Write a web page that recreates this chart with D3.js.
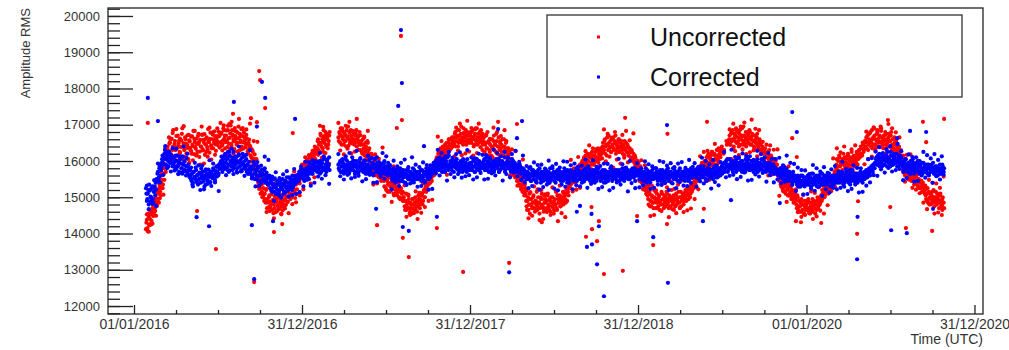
<!DOCTYPE html>
<html><head><meta charset="utf-8">
<script src="https://cdn.jsdelivr.net/npm/d3@7"></script>
<style>
html,body{margin:0;padding:0;background:#fff;}
svg{display:block;font-family:"Liberation Sans",Arial,Helvetica,sans-serif;}
</style></head><body>
<svg id="chart" width="1009" height="350"></svg>
<script>
// ---------------- DATA ----------------
const seriesNames = ["Uncorrected", "Corrected"];
const stepDays = 2;      // runs A and B
const stepDaysC = 4;     // run C
const yearStarts = ["2016-01-27", "2017-01-01", "2018-01-01", "2019-01-01", "2020-01-01"];
const yearStartsB = ["2016-01-28", "2017-01-02", "2018-01-02", "2019-01-02", "2020-01-02"];
const yearStartsC = ["2016-01-29", "2017-01-03", "2018-01-03", "2019-01-03", "2020-01-03"];

const uncorrected2016 = [14120,14380,14060,14450,14230,
14520,14350,14700,14480,14880,14620,14950,14760,
15100,14850,15320,15050,15480,15250,
15650,15480,15900,16150,15820,16300,
16250,16520,16180,16610,16390,16080,16470,16300,16690,16150,
16420,16560,16230,16380,16750,16120,16490,16330,16600,16210,
16440,16050,16570,16360,16270,16680,16410,16190,16530,16340,
16620,16260,16480,16110,16580,16400,16720,16290,16510,16170,
16460,16650,16320,16540,16230,16780,16430,16600,16350,16500,
16690,16280,16560,16440,16810,16370,
16520,16780,16450,16900,16610,16350,16700,16550,16850,16480,
16640,16980,16420,16730,16580,16330,16690,16820,16500,16620,
16280,16750,16560,16400,16870,16510,16650,16380,16720,16460,
16300,16590,16420,
16350,16080,16250,15950,16180,15800,16050,
15750,15400,15600,15250,15520,15150,15380,15080,
15100,14850,15230,14950,14720,15050,14880,15180,14650,14930,
14800,15020,14590,14870,14760,15120,14680,14900,14550,14830,
15060,14720,14950,14800,15150,14870,15000,
15230,14950,15300,15080,15400,15150,14980,15350,15220,15480,
15600,15380,15750,15520];
const uncorrected2016B = [14300,14150,14550,14250,14400,
14250,14600,14800,14550,14700,15000,14850,15150,
14950,15250,15150,15400,15600,15350,
15800,16050,15700,16250,16400,16100,
16480,16620,16150,16300,16850,16400,16550,16020,16350,16700,
16480,16250,16130,16560,16900,16420,16300,16650,16480,16070,
16360,16720,16540,16290,16200,16450,16830,16610,16380,16150,
16470,16690,16520,16260,16400,16950,16330,16580,16740,16460,
16250,16380,16880,16520,16610,16420,16350,16730,16580,16820,
16460,16620,16900,16510,16680,16750,
16750,16420,16560,16980,16700,16520,16840,16380,16620,17020,
16760,16470,16850,16690,16540,16910,16610,16450,16780,16950,
16660,16520,16880,16690,16340,16780,16560,16470,16620,16260,
16500,16380,16150,
16100,16300,15850,16050,15700,15900,15600,
15550,15300,15450,15100,15350,15000,15250,14900,
14950,15200,14700,14850,15000,14620,14780,15080,14850,14560,
14700,14950,14880,14620,14980,14700,14820,15050,14750,14640,
14900,15100,14780,15020,14880,15180,15050,
15100,15350,15000,15250,15450,15200,15380,15100,15550,15420,
15450,15700,15650,15900];
const uncorrected2016C = [14530,14050,14610,14270,15220,14490,15400,14970,15690,15070,16350,15840,
16650,15980,16770,16140,16880,16010,16620,16060,16960,16110,16710,15950,16670,16020,16830,16180,16750,15900,16730,15930,16610,16120,16920,16040,16800,16170,16690,15870,
17050,16290,16850,16180,16970,16340,17080,16210,16820,16260,17160,16310,16910,16150,16870,16220,17030,
15980,16550,15700,16530,
15230,15710,15020,15620,
14590,15350,14720,15240,14420,15400,14640,15200,14530,15320,14690,15430,14560,
15370,14810,15710,14860,15460,
15050,15770];

const uncorrected2017 = [15550,15800,15650,15950,15700,16050,15850,15750,16100,15900,16200,15980,16150,16300,16050,16250,
16350,16600,16450,16250,16700,16500,16350,16650,16550,16800,16400,16600,16450,16700,
null,null,null,null,null,null,null,null,null,
16650,16800,16500,16700,16900,16600,16450,16750,16550,16850,16680,16420,16780,16580,16700,16480,16820,16600,16520,16750,16400,16650,16550,16800,
16300,16550,16200,16450,16650,16250,16400,16100,16500,16300,16050,
16100,15800,15950,15700,16000,15850,15600,15900,15750,15550,15800,15650,15500,15700,
15550,15300,15600,15200,15450,15350,15650,15150,15400,15250,15500,15100,15380,15200,15450,15050,15300,15150,14950,15250,15100,14900,
15000,14750,14900,14650,14850,15050,14700,14600,14800,14550,14950,14700,14850,14650,14900,14750,15050,14800,14950,
14850,15100,14900,15200,15000,15300,
15250,15500,15350,15650,15400,15550,15750,15600,15850,15700,
15900,16100,15950,16250,16050,16350,16150,15980,16300,16200,16450,16100,16350,16250,16500,16300,16600,16400,16550,
16650,16450,16800,16550,16700,16400,16850,16600,16750,16500,16650,16900,16550,16700,16450,16800,16600,16500,16700];
const uncorrected2017B = [15700,15600,15900,15800,15650,15950,16000,15850,15950,16150,16050,16250,16100,16400,16200,16350,
16550,16300,16500,16750,16400,16600,16250,16500,16700,16450,16650,16350,16550,16800,
null,null,null,null,null,null,null,null,null,
16550,16750,16900,16450,16650,16800,16550,16700,16400,16650,16950,16600,16500,16850,16650,16550,16750,16450,16700,16850,16600,16500,16700,16450,
16450,16250,16600,16350,16150,16500,16300,16550,16200,16350,16150,
15950,16150,15750,15900,15650,16050,15800,15700,15950,15600,15750,15450,15650,15550,
15450,15650,15250,15500,15150,15400,15550,15300,15200,15450,15350,15050,15300,15500,15150,15250,15400,15000,15200,14950,15150,15000,
14900,14650,15100,14800,14700,14950,14550,14850,14700,14950,14600,14800,15000,14750,14600,14850,14950,14700,15100,
15050,14800,15150,15000,15250,15150,
15400,15350,15600,15500,15750,15450,15700,15900,15800,16000,
16050,15850,16200,16000,16300,16100,16250,16400,16150,16350,16250,16500,16200,16400,16600,16450,16350,16650,16500,
16550,16750,16400,16650,16850,16500,16700,16550,16950,16600,16450,16750,16650,16850,16550,16700,16750,16600,16800];
const uncorrected2017C = [15220,16100,15520,16160,15380,16280,15550,16300,
16170,16970,16090,16850,16220,16740,15920,
null,null,null,null,
17050,16290,16850,16180,16970,16340,17080,16210,16820,16260,17160,16310,
16710,15950,16670,16020,16830,16180,
16200,15350,16180,15380,16060,15570,16370,
15040,15800,15170,15690,14870,15850,15090,15650,14980,15770,15140,
15330,14460,15070,14510,15410,14560,15160,14400,15120,
14570,15380,14730,
15750,14900,15730,14930,15610,
15870,16670,15790,16550,15920,16440,15620,16600,15840,16400,
16130,16920,16290,17030,16160,16770,16210,17110,16260];

const uncorrected2018 = [16700,16500,16850,16600,16450,16750,16550,16900,16650,16500,16800,16600,16700,
16300,16550,16200,16450,16700,16350,16150,16500,16250,16600,16400,16100,16550,16300,16450,16750,16200,16400,16050,16500,16350,16250,16600,16150,16400,16300,16550,16200,
16150,15950,16200,15850,16050,15750,15950,15650,15850,15550,15750,15450,15650,15350,15550,15250,15450,15150,15350,
15050,14750,14900,14650,15100,14800,14950,14700,15000,14850,14600,14900,15150,14750,14850,14550,15000,14800,14950,14700,
15050,14850,14650,14900,15100,14750,14950,14600,14850,15000,14700,14900,14800,15150,14650,14950,14850,15050,14750,14900,
15000,14800,15100,14950,15200,14900,15150,
15300,15500,15350,15650,15450,15700,15550,15400,15750,15600,15850,15650,15900,15700,15950,
15850,16050,15900,16150,15950,16200,16000,15800,16100,15950,16250,16050,15900,16150,16000,16300,16100,15950,16250,16150,16350,
16250,16500,16300,16600,16400,16150,16450,16700,16350,16550,16250,16400,16650,16300,16500,16200,16450,16350,16600,16250,
16400,16550,16300,16450,16150,16350,16500,16250,16400,16200,16350,16100,16300,16050,16200,15950,16100,
15850,15650,15750];
const uncorrected2018B = [16550,16800,16650,16400,16700,16900,16600,16450,16750,16550,16650,16850,16500,
16450,16650,16250,16500,16350,16800,16550,16300,16450,16150,16600,16350,16700,16450,16250,16550,16400,16650,16300,16550,16450,16150,16400,16600,16300,16500,16250,16350,
16050,16250,15850,16000,15700,15900,15800,15550,15750,15450,15650,15350,15550,15300,15450,15150,15350,15050,15250,
14900,14650,15000,14800,14550,14950,14750,14850,15050,14700,14900,14800,14650,15000,14850,14700,14950,15100,14750,14600,
14850,14950,14700,15050,14800,14650,14900,15000,14750,14850,14550,14950,14800,14700,15050,14850,14950,14750,15000,14850,
15150,14900,15050,14850,15100,15250,15050,
15450,15250,15600,15400,15550,15800,15500,15650,15450,15800,15700,15550,15850,15750,16000,
15950,16100,15800,16050,15900,16150,15850,16100,16200,15900,16050,16150,15950,16250,16100,16000,16350,16200,16050,16300,16200,
16400,16300,16550,16200,16450,16650,16300,16500,16400,16250,16600,16450,16350,16550,16700,16300,16400,16550,16250,16500,
16350,16450,16200,16400,16550,16300,16250,16450,16150,16350,16250,16050,16250,16100,16000,16150,15900,
15750,15900,15600];
const uncorrected2018C = [16910,16150,16870,16220,17030,16380,
16750,15900,16730,15930,16610,16120,16920,16040,16800,16170,16690,15870,16850,16090,
16350,15600,16320,15610,16270,15320,15850,15220,16040,15110,
15180,14420,15140,14490,15300,14650,15220,14370,15200,14400,15080,14590,15390,14510,15270,14640,15160,14340,15320,14560,15120,14450,15240,
15290,16030,15160,15770,15210,16110,15260,15860,
15550,16270,15620,16430,15780,16350,15500,16330,15530,16210,
16070,16870,15990,16750,16120,16640,15820,16800,16040,16600,15930,16720,16090,16830,15960,16570,16010,16760,15860,
16010];

const uncorrected2019 = [15950,15700,15850,15500,15650,15350,15500,15200,15400,15150,
15050,14800,15150,14900,14750,15000,14850,15200,14950,14700,
15100,14850,15000,14650,14900,15150,14800,14950,15050,14750,
14900,15100,14850,14700,15000,14950,15200,14800,15050,14900,
14750,15100,14950,14850,15000,14700,15150,14900,15050,14800,
15000,15150,14900,15250,15050,15200,15000,15300,15150,
15400,15250,15550,15350,15650,15450,15750,15550,15850,15650,15950,15750,15600,16000,
15850,16100,15900,16200,15800,16050,15950,16250,15850,16000,16150,15900,16300,16050,15950,16200,16100,16350,
null,null,16300,null,null,16450,null,
16500,16700,16450,16800,16600,16350,16750,16550,16900,16500,
16650,16400,16850,16600,16700,16450,16950,16550,16650,16400,
16750,16600,16500,16800,16650,16450,16700,16550,16350,16600,
16500,16750,16400,16550,16300,16500,16250,
16350,16050,16250,15950,16200,16100,15900,16300,16000,16150,15850,16050,15950,15750,16000,15800,15650,
15700,15450,15600,15300,15550,15200,15450,15350,15100,15400,15250,15050,15300,15150,14950,15200,15050,14900,15100,
14900,14700,15000,14750,14600,14850,14950,14650,14800,14550,14900,14700];
const uncorrected2019B = [15800,15600,15750,15400,15600,15250,15450,15300,15100,15250,
14950,15100,14750,14900,15050,14850,14700,15000,15150,14850,
14950,14750,15050,14900,14800,15100,14950,14700,14850,15000,
15150,14800,14950,15050,14750,14900,15000,14850,14650,14950,
15050,14800,14900,15150,14850,15000,14750,14950,15100,14900,
15050,14950,15200,15100,14950,15250,15100,15350,15200,
15300,15500,15450,15300,15600,15500,15700,15650,15750,15900,15800,15700,15950,15850,
16000,15800,16150,15950,16100,15900,16250,16000,15900,16200,16050,15850,16150,16000,16300,16150,16250,16400,
null,16200,null,null,16550,null,null,
16600,16450,16750,16550,16850,16400,16650,16700,16500,16800,
16550,16750,16450,16650,16900,16550,16700,16450,16800,16600,
16500,16700,16850,16450,16600,16750,16550,16400,16700,16500,
16650,16450,16350,16600,16450,16300,16400,
16200,16000,16350,16100,15950,16250,16050,16150,15900,16100,15950,15800,16050,15850,15700,15900,15600,
15550,15650,15350,15500,15250,15400,15150,15300,15450,15200,15050,15350,15100,15250,15000,15150,14850,15050,14950,
14800,15050,14650,14900,14750,14600,14900,14800,14550,14750,14650,14850];
const uncorrected2019C = [15450,16020,15220,15880,15080,
15330,14480,15310,14510,15190,14700,15500,14620,15380,14750,15270,14450,15430,14670,15230,14560,15350,14720,15460,14590,15200,14640,15540,14690,
15610,14950,15770,15220,16130,15580,16250,
15450,16280,15480,16160,15670,16470,15590,16350,15720,
null,16250,null,null,
16870,16050,17030,16270,16830,16160,16950,16320,17060,16190,16800,16240,17140,16290,16890,16130,16850,16200,
16530,15880,16450,15600,16430,15630,16310,15820,16320,
15040,15800,15170,15690,14870,15850,15090,15650,14980,
15220,14590,15330,14460,15070,14510];

const uncorrected2020 = [14800,14650,14950,14700,14550,14850,14750,14600,14900,14700,14800,14650,15000,14750,14900,14850,15050,14950,
15100,15300,15050,15250,15150,15400,15200,15350,15500,15300,15450,15600,15400,15650,
15800,16050,15850,15700,16100,15900,16000,15750,16200,15950,
15850,16050,15700,16150,15900,16000,15800,16250,15950,16050,
15850,16100,15950,16200,16050,16300,16100,16400,16200,16350,16250,16500,
16400,16650,16500,16300,16750,16550,16400,16850,16600,16450,
16700,16350,16550,16800,16500,16650,16400,16900,16550,16450,
16700,16600,16350,16750,16500,16650,16400,16550,16800,16450,
16600,16350,16500,16250,16450,16200,16350,16150,16250,16050,
15950,15700,15850,15600,15800,15550,15750,15900,15500,15650,
15450,15700,15600,15350,15550,15450,15650,15300,15500,15400,
15250,15450,15350,15150,15300,
15200,14950,15100,14850,15150,15000,14800,15050,14900,15200,
14750,15000,14850,15100,14950,14700,15050,14900,14800,15000,14850];
const uncorrected2020B = [14700,14900,14600,14850,14750,14650,14950,14700,14800,14550,14850,14900,14700,14950,14800,15000,14900,15100,
15200,15000,15350,15150,15300,15100,15450,15250,15400,15550,15350,15500,15700,15550,
15900,15750,16000,16150,15850,15950,15700,16050,15900,16100,
15800,15950,16150,15850,16050,15750,16100,15900,16000,16150,
15950,16050,16250,15900,16150,16300,16200,16350,16150,16450,16300,16550,
16550,16350,16700,16450,16600,16800,16500,16350,16650,16900,
16450,16600,16750,16400,16550,16700,16950,16500,16650,16350,
16550,16800,16450,16600,16400,16750,16550,16700,16350,16600,
16450,16650,16300,16550,16400,16250,16400,16100,16300,16000,
16000,15800,15650,15900,15700,15850,15600,15500,15750,15550,
15700,15450,15550,15650,15400,15600,15350,15500,15250,15450,
15300,15150,15400,15250,15100,
15050,14900,15250,14950,14800,15100,14950,15150,14850,15000,
14900,15150,14800,14950,15050,14850,15100,14750,14950,14850,14700];
const uncorrected2020C = [15410,14560,15160,14400,15120,14470,15280,14630,15200,
14550,15480,14780,15560,15170,16070,15290,
16350,15720,16240,15420,16400,15640,16200,15530,16320,15690,16430,15560,16170,15610,16510,15910,
16810,16050,16770,16120,16930,16280,16850,16000,16830,16030,16710,16220,17020,16140,16900,16270,16790,15970,16650,15890,
16150,15430,16170,15490,16180,15260,15820,15210,16010,15110,15660,14850,
15320,14670,15480,14830,15400,14550,15380,14580,15260,14770,15570];

const corrected2016 = [15250,14900,15100,14800,15180,15020,14950,15300,14850,15150,15050,15220,
15450,15700,15550,15850,15600,15950,
16150,15920,16200,16050,15880,16250,16000,16120,15950,16180,16050,15850,
16100,15850,16020,15780,16150,15900,15700,16050,15930,15800,16120,15750,15980,15860,16080,15720,15900,15800,
15750,15500,15650,15400,15700,15560,15820,15450,15620,15380,15680,15520,15790,15600,15430,15710,15550,15350,15640,15480,
15760,15580,15420,15690,15530,15800,15610,15450,15720,15570,15860,15650,15780,
15850,16120,15900,16050,15780,16200,15950,15820,16080,15700,16150,15920,16010,15750,16250,15880,15990,16100,15800,15960,
16180,15850,16030,15720,15940,16120,15870,15780,16050,15900,15650,15980,15820,
15850,15600,15780,15520,15900,15650,15740,15480,15820,15580,15700,15450,15760,15620,15520,15800,15400,15680,15550,15350,15600,
15250,15450,15150,15380,15280,15520,15100,15350,15200,15420,15050,15310,15480,15220,15380,15150,15450,15290,15550,15180,
15400,15250,15500,15330,15600,15280,15450,15380,15550,15420,
15620,15450,15700,15550,15800];
const corrected2016B = [15100,14950,15200,15350,14880,15000,15250,14950,15150,15300,15400,15500,
15650,15500,15800,15900,15750,16050,
15950,16100,16300,15900,16050,16150,15850,16200,16050,15950,16100,15900,
15950,15750,16150,16000,15850,15650,15950,16100,15800,15650,15900,16000,15750,15600,15850,15650,15750,15550,
15600,15450,15350,15700,15550,15500,15750,15600,15350,15500,15650,15400,15550,15700,15500,15300,15600,15750,15450,15550,
15650,15400,15700,15550,15600,15750,15500,15650,15850,15700,15600,15900,15800,
16000,15800,16100,15950,15850,16150,16050,15750,15900,16250,16000,15850,16100,15950,15800,16050,15900,15700,16000,16150,
15850,15950,15750,16100,15900,15800,16000,15850,15700,15900,15750,15800,15650,
15750,15550,15850,15650,15500,15750,15600,15850,15450,15700,15600,15400,15650,15500,15750,15450,15600,15500,15350,15550,15400,
15400,15200,15350,15500,15150,15300,15250,15450,15350,15150,15400,15250,15300,15500,15100,15350,15450,15250,15400,15300,
15550,15350,15450,15200,15400,15500,15350,15600,15450,15500,
15550,15700,15600,15850,15650];
const corrected2016C = [15320,14670,15220,14820,15470,14760,
15930,15410,15840,
15620,16410,15800,16250,15710,16350,
15740,16340,15640,16130,15680,16400,15710,16200,15590,
15820,15300,15950,15420,15880,15200,15870,15220,15770,15370,16020,15310,15930,15410,15840,15170,15960,
15700,16150,15610,16250,15740,16340,15640,16130,15680,16400,15710,16200,15590,16170,15650,16300,
15520,15980,15300,15970,15320,15870,15470,16120,15410,16030,15510,
15570,14900,15690,15080,15530,14990,15630,15120,15720,15020,15510,15060,15780,15090,15580,
15140,15720];

const corrected2017 = [15550,15700,15450,15650,15800,15600,15750,15500,15850,15700,15900,15650,15800,15950,15750,15850,
15700,15950,15800,15650,16000,15850,15750,16050,15800,15900,15700,15950,15850,16100,
null,null,null,null,null,null,null,null,null,
15900,15750,16000,15700,15850,15950,15650,15800,16050,15750,15900,15800,15700,15950,15850,16100,15750,15900,15650,15850,16000,15800,15700,15950,15850,15750,
15900,15700,15850,16000,15750,15650,15900,15800,16050,15700,15850,15950,15600,15800,15900,15750,16100,15850,15700,15950,15800,15650,15900,15750,16000,15850,15700,15800,15950,15650,15850,
15700,15500,15650,15800,15550,15600,15750,15450,15650,15550,15800,15600,15450,15700,15550,15650,15400,15750,15600,15500,15700,15550,15650,15450,15800,15600,15500,15700,15550,15650,
15500,15700,15600,15450,15750,15550,15650,15400,15700,15600,15800,15500,15650,15550,15750,15650,15850,15700,
15800,16000,15850,15950,15750,16100,15900,15800,16050,15850,15950,15700,16000,15900,15800,16150,15850,15950,15750,16050,15900,15850,16000,15800,15950,
15750,15900,15800,16000,15850,15700,15950,15800,15900,15750,16050,15850,15800,15950];
const corrected2017B = [15650,15500,15750,15600,15700,15550,15850,15650,15750,15800,15650,15900,15750,15850,16000,15800,
15850,15750,16000,15900,15700,15950,15800,16100,15750,15850,16000,15800,15900,15750,
null,null,null,null,null,null,null,null,null,
15800,15950,15700,15850,16050,15750,15900,15700,15850,16000,15800,15650,15900,15800,15950,15750,15850,16000,15700,15900,15800,15650,15850,16050,15800,15900,
15750,15950,15800,15650,15900,15850,15700,16000,15750,15850,15650,15900,15800,16050,15700,15850,15950,15750,15650,15850,15900,15700,15800,15950,15650,15750,15850,15600,15800,15700,15750,
15600,15750,15450,15700,15550,15650,15500,15800,15600,15700,15450,15650,15550,15750,15600,15400,15650,15550,15750,15500,15600,15700,15450,15650,15550,15750,15600,15500,15650,15700,
15650,15550,15750,15500,15600,15700,15450,15650,15800,15550,15700,15600,15750,15850,15650,15800,15950,15750,
15900,15750,16050,15850,15950,15800,16000,15700,15900,16050,15800,15950,15850,16100,15750,15900,16000,15800,15950,15850,15700,15950,15850,16050,15900,
15850,15700,15950,15800,15900,16050,15750,15850,15950,15700,15850,15900,15750,15900];
const corrected2017C = [15300,15980,15480,15970,15320,16020,15400,15970,
15570,16220,15510,16130,15610,16040,15370,
null,null,null,null,
16190,15580,16030,15490,16130,15620,16220,15520,16010,15560,16280,15590,16080,
15440,16020,15500,16150,15620,16080,15400,16070,15420,15970,15570,16220,15510,16130,15610,
15890,15220,16010,15400,15850,15310,15950,15440,16040,15340,15830,15380,16100,15410,15900,15290,
15830,15310,15960,15430,15890,15210,15880,15230,15780,
15660,16310,15600,16220,15700,16130,15460,16250,15640,16090,15550,16190,
15640,16240,15540,16030,15580,16300,15610];

const corrected2018 = [15800,15950,15750,16000,15850,15700,15900,16050,15800,15950,15750,15900,15850,
15950,15800,16050,15850,15750,16000,15900,15700,16100,15850,15950,15800,16000,15750,15900,16050,15850,15950,15700,15900,
16000,15800,15950,15850,16100,15750,15900,16000,15850,15800,15950,15700,16050,15900,15800,15950,15850,15750,15900,15800,
15700,15850,15750,15650,15800,15700,15600,
15650,15500,15700,15550,15800,15600,15450,15650,15750,15500,
15600,15700,15400,15550,15650,15800,15500,15600,15700,15450,
15650,15550,15750,15600,15500,15700,15400,15650,15550,15800,
15600,15450,15700,15550,15650,15500,15750,15600,15450,15650,
15550,15700,15800,15500,15600,15400,15700,15550,15650,15750,
15500,15600,15450,15700,15550,15800,15600,15650,15500,15700,
15550,15400,15650,15750,15600,15500,15700,15550,15850,15600,
15450,15650,15550,15750,15600,15500,15700,15450,15650,15800,
15550,15600,15700,15500,15650,15400,15750,15600,15550,15700,
15500,15650,15800,15600,15450,15700,15550,15650,15500,15750,
15600,15700,15450,15650,15550,15800,15600,15500,15700,15650,
15550,15750,15600,
15500,15700,15600,15800,15550,15650,15450,15750,15600,15700];
const corrected2018B = [15900,15750,15850,16050,15700,15950,15800,15900,15750,16000,15850,15800,15950,
15850,16000,15750,15900,16100,15800,15950,15850,16050,15750,15900,15850,15700,16000,15850,15950,15800,16050,15900,15750,
15850,16000,15800,15900,15700,15950,15850,16100,15800,15950,15750,15900,15850,16000,15750,15900,15800,15700,15850,15750,
15900,15650,15800,15700,15550,15750,15650,
15600,15700,15500,15650,15550,15450,15750,15600,15500,15700,
15650,15450,15600,15750,15550,15650,15400,15700,15550,15600,
15500,15750,15650,15450,15600,15550,15800,15500,15650,15600,
15700,15550,15400,15650,15750,15550,15600,15700,15500,15600,
15450,15650,15550,15700,15500,15750,15600,15450,15550,15650,
15700,15550,15600,15500,15650,15450,15700,15750,15600,15500,
15650,15550,15700,15450,15600,15800,15550,15650,15500,15600,
15700,15550,15450,15650,15600,15750,15500,15550,15700,15600,
15650,15450,15600,15750,15550,15700,15500,15650,15600,15450,
15700,15550,15650,15750,15500,15600,15700,15550,15650,15450,
15600,15750,15550,15650,15500,15700,15600,15800,15550,15650,
15700,15500,15650,15550,15750,15600,15700,15550,15800,15650,
15600,15750,15700];
const corrected2018C = [16100,15490,16070,15550,16200,15670,
16170,15490,16160,15510,16060,15660,16310,15600,16220,15700,16130,15460,16250,15640,16090,15550,16190,15680,16280,15580,15980,15480,16150,15410,
15860,15250,15830,15310,15960,15430,15890,15210,
15900,15280,15790,15350,16010,15460,15850,15240,15920,15190,15820,15350,15990,15290,15980,15390,15880,15220,15930,15330,15840,15300,15870,15430,16040,15260,15760,15370,16020,15400,
15840,15230,15860,15280,15930,15410,15920,15190,15850,15260,15750,15410,16060,15350,15910,15450,15820,15160,16000,15390,15780,15250,15940];

const corrected2019 = [15650,15500,15750,15550,15600,15450,15700,15600,15800,15500,
15650,15550,15700,15400,15600,15750,15500,15650,15550,15800,
15600,15450,15700,15550,15650,15500,15750,15600,15450,15700,
15550,15650,15800,15500,15600,15700,15400,15650,15550,15750,
15600,15500,15700,15650,15450,15800,15550,15600,15700,15500,
15650,15750,15550,15600,15450,15700,15600,15800,15550,15650,
15700,
15600,15750,15550,15800,15650,15500,15700,15850,15600,15750,
15550,15700,15650,15450,15800,15600,15700,15550,15750,15650,
15500,15800,15600,15700,15850,15550,15650,15750,15600,15800,
15850,15750,15950,15800,16000,15900,15700,15850,16050,15800,
15950,15750,15900,16000,15850,15700,15950,15800,16100,15900,
15750,15850,16000,15800,15900,15700,15950,15850,16050,15750,
15900,15800,16000,15850,15700,15950,15900,15800,16050,15850,
15750,15950,15800,15900,15700,16000,15850,15750,15900,15800,
15950,15850,15700,15800,15900,15750,15850,15650,15800,15700,
15750,15600,
15650,15800,15550,15750,15600,15850,15700,15500,15750,15650,15550,15700,15450,15650,15550,15700,15450,15600,
15500,15350,15600,15400,15550,15300,15450,15600,15350,15500,15400,15550];
const corrected2019B = [15600,15750,15500,15650,15550,15700,15450,15650,15550,15750,
15600,15450,15700,15600,15500,15650,15800,15550,15600,15700,
15500,15650,15550,15750,15450,15600,15700,15550,15650,15500,
15750,15600,15450,15700,15550,15650,15600,15800,15500,15650,
15550,15700,15450,15600,15750,15550,15650,15500,15700,15600,
15450,15650,15550,15750,15600,15500,15700,15650,15550,15750,
15600,
15700,15550,15750,15650,15500,15800,15600,15700,15550,15850,
15650,15750,15500,15700,15600,15800,15650,15550,15750,15600,
15700,15850,15650,15550,15750,15700,15600,15800,15700,15850,
15900,15800,15700,15950,15850,16050,15750,15900,15800,16000,
15850,15700,15950,15800,15900,16050,15750,15850,15950,15800,
16000,15700,15900,15850,15750,16050,15800,15950,15850,15900,
15750,16000,15800,15900,15850,15750,16000,15900,15700,15950,
15850,15800,16050,15750,15900,15850,15950,15700,15850,15900,
15750,15950,15800,15700,15850,15900,15650,15800,15750,15700,
15650,15750,
15700,15550,15800,15650,15500,15750,15600,15800,15650,15450,15700,15600,15500,15650,15400,15600,15500,15450,
15450,15550,15300,15500,15400,15600,15350,15450,15550,15300,15450,15500];
const corrected2019C = [15270,15800,15330,15990,15400,15910,15230,15850,15260,15800,15350,16000,15340,15970,15390,15870,15200,15940,15380,15830,15250,15930,15420,15970,15320,15810,15310,16030,15390,15840,
15940,15290,15840,15440,16090,15380,16000,15480,15910,15240,16030,15420,15870,15330,15970,
15650,16250,15550,16040,15590,16310,15620,16110,15500,16080,15560,16210,15680,16140,15460,16130,15480,16030,15630,16280,15570,16190,15670,16100,15430,16220,15610,16060,15410,16050,15490,
16090,15390,15880,15430,16150,15460,15950,15340,15920,
15170,15820,15290,15750,15070,15740];

const corrected2020 = [15500,15350,15600,15400,15550,15300,15450,15650,15400,15500,
15350,15550,15450,15600,15300,15500,15400,15650,15450,15550,
15350,15500,15600,15400,15550,15450,15300,15500,15600,15450,15550,15400,
15600,15450,15550,15700,15400,15600,15500,15650,15350,15550,
15450,15700,15500,15600,15400,15650,15550,15450,15750,15500,
15600,15400,15550,15650,15450,15600,15500,15700,15550,15400,
15650,15500,15600,15750,15550,15650,15800,15600,15750,15850,
15700,15900,15800,
15950,16100,15900,16050,16200,15950,16000,15850,16150,16050,
15900,16100,16000,16250,15950,16050,15850,16150,16000,15900,
16100,16050,15950,16200,16000,15850,16050,15950,16100,
15900,15750,15950,15800,16050,15850,15700,15900,15800,16000,
15750,15850,15950,15650,15900,15800,15750,16000,15850,15700,
15900,15800,15650,15950,15750,15850,15700,15900,15800,15600,
15850,15750,15900,15700,15800,15650,15850,15750,15600,15800,
15700,15900,15650,15750,15850,15700];
const corrected2020B = [15450,15600,15350,15500,15400,15650,15500,15350,15550,15450,
15600,15300,15500,15400,15550,15650,15350,15500,15450,15600,
15400,15550,15350,15500,15650,15450,15550,15400,15500,15350,15600,15500,
15550,15400,15650,15500,15600,15450,15700,15550,15500,15400,
15600,15500,15650,15450,15550,15350,15600,15700,15500,15550,
15450,15650,15500,15400,15600,15550,15700,15450,15600,15500,
15550,15650,15700,15550,15650,15750,15600,15700,15850,15750,
15900,15800,15950,
16050,15900,16150,16000,15850,16100,15950,16200,16050,15900,
16000,16150,15850,16050,16100,15950,16250,16000,15900,16050,
16150,15950,16000,15850,16100,15950,16150,16000,15900,
15850,15700,16000,15800,15900,15750,15950,15850,15650,15900,
15800,16050,15750,15850,15700,15950,15800,15900,15650,15850,
15750,15950,15800,15700,15900,15850,15750,15650,15900,15800,
15700,15850,15750,15950,15650,15800,15700,15850,15600,15750,
15800,15650,15750,15900,15700,15800];
const corrected2020C = [15090,15640,15240,15890,15180,15800,15280,15710,15040,15830,15220,15670,15130,15770,15260,15860,
15220,15710,15260,15980,15290,15780,15170,15750,15230,15880,15350,15810,15130,15800,15150,15700,15320,16050,15410,16080,15610,
16260,15590,16380,15770,16220,15680,16320,15810,16410,15710,16200,15750,16470,15780,16270,
15470,16050,15530,16180,15650,16110,15430,16100,15450,16000,15600,16250,15540,16160,15640,16070,15400,16190,15580,16030,15490,16130,15620];

// isolated points (dates and values)
const uncorrectedExtraDates = ["2016-01-31","2016-05-17","2016-06-27","2016-08-03","2016-09-11","2016-09-18","2016-09-24","2016-09-29","2016-10-01","2016-10-12","2016-10-31","2016-11-18","2016-12-11",
"2017-02-15","2017-06-12","2017-07-25","2017-08-05","2017-08-03","2017-08-07","2017-08-20","2017-10-20","2017-12-16",
"2018-03-02","2018-03-26","2018-04-12","2018-06-05","2018-09-09","2018-09-22","2018-09-21","2018-10-03","2018-10-07","2018-10-18","2018-11-28","2018-12-03","2018-12-29",
"2019-02-02","2019-03-04","2019-03-05","2019-05-23","2019-05-30","2019-12-01","2019-12-11","2019-12-09","2019-12-20",
"2020-02-02","2020-04-20","2020-04-22","2020-06-26","2020-07-01","2020-08-04","2020-09-10","2020-09-17","2020-09-30","2020-10-21","2020-10-22","2020-10-26"];
const uncorrectedExtraValues = [17050,14620,13570,17300,17180,12660,17070,18480,18230,17460,14040,14260,16770,
16940,14230,16910,17130,19450,13880,13350,14150,12940,
17080,13190,17020,14310,13910,14120,14730,13790,14340,12880,12970,17190,14480,
13680,14260,16750,14680,17080,16630,16110,14340,14310,
14290,13990,14890,17130,14730,14150,17080,16520,14070,14510,14650,17160];

const correctedExtraDates = ["2016-01-31","2016-02-22","2016-05-16","2016-06-12","2016-08-05","2016-09-13","2016-09-18","2016-09-24","2016-10-05","2016-10-12","2016-10-29","2016-12-16",
"2017-06-10","2017-08-03","2017-08-05","2017-07-28","2017-08-07","2017-08-20","2017-09-22","2017-10-20",
"2018-03-02","2018-03-26","2018-04-12","2018-04-23","2018-08-20","2018-08-27","2018-09-11","2018-09-22","2018-09-21","2018-10-03","2018-10-07","2018-10-18","2018-12-29",
"2019-02-02","2019-03-04","2019-03-06","2019-05-21","2019-07-21","2019-11-04","2019-12-01","2019-12-11",
"2020-04-20","2020-04-21","2020-07-03","2020-08-06","2020-10-02","2020-07-16","2020-08-13","2020-09-17"];
const correctedExtraValues = [17740,17100,14450,14200,17630,14230,12740,16950,18180,17740,14340,17160,
14680,19610,18150,17520,14180,14070,16410,14460,
16880,12930,16630,17100,14600,14760,13630,13700,14540,13150,14200,12270,14340,
13900,16990,12640,14340,14920,14840,17350,16800,
13290,14460,14090,14010,14680,16630,16830,16800];

const xTickDates = ["2016-01-01","2016-12-31","2017-12-31","2018-12-31","2020-01-01","2020-12-31"];
const yTicks = [12000,13000,14000,15000,16000,17000,18000,19000,20000];
const yMinorTicks = d3.range(11800, 20201, 200);

// ---------------- BUILD ----------------
const parse = d3.utcParse("%Y-%m-%d");
function addRuns(pts, starts, step, yearArrays) {
  yearArrays.forEach((arr, k) => {
    const start = parse(starts[k]);
    arr.forEach((v, i) => {
      if (v == null) return;
      pts.push({date: d3.utcDay.offset(start, i * step), value: v});
    });
  });
}
function buildSeries(runsA, runsB, runsC, extraDates, extraValues) {
  const pts = [];
  addRuns(pts, yearStarts, stepDays, runsA);
  addRuns(pts, yearStartsB, stepDays, runsB);
  addRuns(pts, yearStartsC, stepDaysC, runsC);
  extraDates.forEach((d, i) => pts.push({date: parse(d), value: extraValues[i]}));
  return pts;
}
const uncorrected = buildSeries(
  [uncorrected2016, uncorrected2017, uncorrected2018, uncorrected2019, uncorrected2020],
  [uncorrected2016B, uncorrected2017B, uncorrected2018B, uncorrected2019B, uncorrected2020B],
  [uncorrected2016C, uncorrected2017C, uncorrected2018C, uncorrected2019C, uncorrected2020C],
  uncorrectedExtraDates, uncorrectedExtraValues);
const corrected = buildSeries(
  [corrected2016, corrected2017, corrected2018, corrected2019, corrected2020],
  [corrected2016B, corrected2017B, corrected2018B, corrected2019B, corrected2020B],
  [corrected2016C, corrected2017C, corrected2018C, corrected2019C, corrected2020C],
  correctedExtraDates, correctedExtraValues);

const svg = d3.select("#chart");
const L = 108, R = 983, T = 8, B = 314;
const x = d3.scaleUtc().domain([new Date(Date.UTC(2015,10,5,12)), new Date(Date.UTC(2021,0,18,12))]).range([L, R]);
const y = d3.scaleLinear().domain([11780, 20220]).range([B, T]);

// points
const colors = {Uncorrected: "#ff0000", Corrected: "#0000ff"};
[[uncorrected, "Uncorrected"], [corrected, "Corrected"]].forEach(([data, name]) => {
  svg.append("g").selectAll("circle").data(data).join("circle")
    .attr("cx", d => x(d.date)).attr("cy", d => y(d.value)).attr("r", 2.1)
    .attr("fill", colors[name]);
});

// frame
svg.append("rect").attr("x", L).attr("y", T).attr("width", R - L).attr("height", B - T)
  .attr("fill", "none").attr("stroke", "#222").attr("stroke-width", 1.3);

// y axis
const yAxisMinor = d3.axisLeft(y).tickValues(yMinorTicks).tickSizeInner(-12).tickSizeOuter(0).tickFormat("");
const gyMinor = svg.append("g").attr("transform", `translate(${L},0)`).call(yAxisMinor);
const yAxis = d3.axisLeft(y).tickValues(yTicks).tickSizeInner(-25).tickSizeOuter(0).tickPadding(8).tickFormat(d3.format("d"));
const gy = svg.append("g").attr("transform", `translate(${L},0)`).call(yAxis);
[gy, gyMinor].forEach(g => {
  g.select(".domain").remove();
  g.selectAll("line").attr("stroke", "#222").attr("stroke-width", 1.3);
});
gy.selectAll("text").attr("font-size", 13).attr("fill", "#333").attr("font-family", '"Liberation Sans",Arial,sans-serif');

// x axis
const majorDates = xTickDates.map(parse);
const minorDates = [];
for (let i = 0; i < majorDates.length - 1; i++) {
  const a = +majorDates[i], b = +majorDates[i + 1];
  for (let q = 1; q < 4; q++) minorDates.push(new Date(a + (b - a) * q / 4));
}
const xAxisMinor = d3.axisBottom(x).tickValues(minorDates).tickSizeInner(-4).tickSizeOuter(0).tickFormat("");
const gxMinor = svg.append("g").attr("transform", `translate(0,${B})`).call(xAxisMinor);
const xAxis = d3.axisBottom(x).tickValues(majorDates).tickSizeInner(-9).tickSizeOuter(0).tickPadding(5).tickFormat(d3.utcFormat("%d/%m/%Y"));
const gx = svg.append("g").attr("transform", `translate(0,${B})`).call(xAxis);
[gx, gxMinor].forEach(g => {
  g.select(".domain").remove();
  g.selectAll("line").attr("stroke", "#222").attr("stroke-width", 1.3);
});
gx.selectAll("text").attr("font-size", 14).attr("fill", "#333").attr("font-family", '"Liberation Sans",Arial,sans-serif');

// axis titles
svg.append("text").attr("transform", `translate(30,${T}) rotate(-90)`).attr("text-anchor", "end")
  .attr("font-size", 13).attr("fill", "#333").text("Amplitude RMS");
svg.append("text").attr("x", R).attr("y", 344).attr("text-anchor", "end")
  .attr("font-size", 14).attr("fill", "#333").text("Time (UTC)");

// legend
const lg = svg.append("g");
lg.append("rect").attr("x", 547).attr("y", 15).attr("width", 415).attr("height", 82)
  .attr("fill", "#fff").attr("stroke", "#333").attr("stroke-width", 1.3);
seriesNames.forEach((name, i) => {
  const cy = 37 + i * 40;
  lg.append("rect").attr("x", 597).attr("y", cy - 1.5).attr("width", 3).attr("height", 3).attr("fill", colors[name]);
  lg.append("text").attr("x", 650).attr("y", cy + 8.5).attr("font-size", 25).attr("fill", "#111").text(name);
});
</script>
</body></html>
